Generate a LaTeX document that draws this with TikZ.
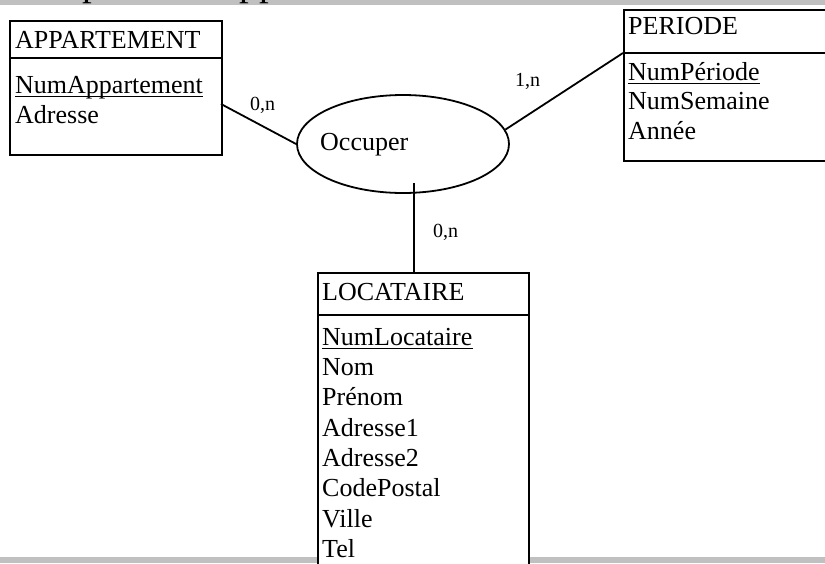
\documentclass[tikz,border=0pt]{standalone}
\usepackage{fontspec}
\setmainfont{Liberation Serif}
\usetikzlibrary{shapes.geometric}
\definecolor{bargray}{HTML}{C0C0C0}
\begin{document}
\begin{tikzpicture}[x=1pt,y=-1pt,
  entity/.style={draw=black, line width=2pt, fill=white, rectangle, inner sep=0pt, anchor=north west},
  divider/.style={line width=1.8pt},
  attr/.style={inner sep=0pt, anchor=base west, font=\fontsize{26}{30}\selectfont},
  card/.style={inner sep=0pt, anchor=base west, font=\fontsize{20}{24}\selectfont},
  link/.style={line width=1.8pt},
  idline/.style={line width=1.4pt},
]
\useasboundingbox (0,0) rectangle (825,563);
\clip (0,0) rectangle (825,563);

% page separators
\fill[bargray] (0,0) rectangle (825,5);
\fill[bargray] (0,557) rectangle (825,563);
\node[inner sep=0pt, anchor=base west, font=\fontsize{39}{44}\selectfont] (heading) at (0,-4.5) {Occupation d'appartement};

% APPARTEMENT
\node[entity, minimum width=212, minimum height=134] (appart) at (9,20) {};
\draw[divider] ([yshift=-38pt]appart.north west) -- ([yshift=-38pt]appart.north east);
\node[attr] (appartT) at (15,48) {APPARTEMENT};
\node[attr] (appartK) at (15,93) {NumAppartement};
\draw[idline] ([yshift=-3.5pt]appartK.base west) -- ([yshift=-3.5pt]appartK.base east);
\node[attr] (appartA) at (15,123) {Adresse};

% PERIODE
\node[entity, minimum width=230, minimum height=151] (periode) at (623,9) {};
\draw[divider] ([yshift=-44pt]periode.north west) -- ([yshift=-44pt]periode.north east);
\coordinate (pdiv) at ([yshift=-44pt]periode.north west);
\node[attr] (periodeT) at (628,34) {PERIODE};
\node[attr] (periodeK) at (628,80) {NumPériode};
\draw[idline] ([yshift=-3.5pt]periodeK.base west) -- ([yshift=-3.5pt]periodeK.base east);
\node[attr] (periodeS) at (628,109.5) {NumSemaine};
\node[attr] (periodeY) at (628,139) {Année};

% LOCATAIRE
\node[entity, minimum width=211, minimum height=320] (locat) at (317,272) {};
\draw[divider] ([yshift=-43pt]locat.north west) -- ([yshift=-43pt]locat.north east);
\node[attr] (locatT) at (322,300) {LOCATAIRE};
\node[attr] (locatK) at (322,345) {NumLocataire};
\draw[idline] ([yshift=-3.5pt]locatK.base west) -- ([yshift=-3.5pt]locatK.base east);
\node[attr] (locat1) at (322,375) {Nom};
\node[attr] (locat2) at (322,405.5) {Prénom};
\node[attr] (locat3) at (322,436) {Adresse1};
\node[attr] (locat4) at (322,466) {Adresse2};
\node[attr] (locat5) at (322,496.5) {CodePostal};
\node[attr] (locat6) at (322,527) {Ville};
\node[attr] (locat7) at (322,557) {Tel};

% association
\node[draw, ellipse, line width=1.8pt, minimum width=212, minimum height=98, inner sep=0pt] (occ) at (403,144) {};
\node[attr] (occT) at (320,150) {Occuper};

% links
\coordinate (apEnd) at (221,104);
\draw[link] (apEnd) -- (occ.west);
\draw[link] (occ.8) -- (pdiv);
\coordinate (lcEnd) at (414,183);
\draw[link] (lcEnd) -- (lcEnd |- locat.north);

% cardinalities
\node[card] (c1) at (250,110) {0,n};
\node[card] (c2) at (515,86) {1,n};
\node[card] (c3) at (433,237) {0,n};
\end{tikzpicture}
\end{document}
